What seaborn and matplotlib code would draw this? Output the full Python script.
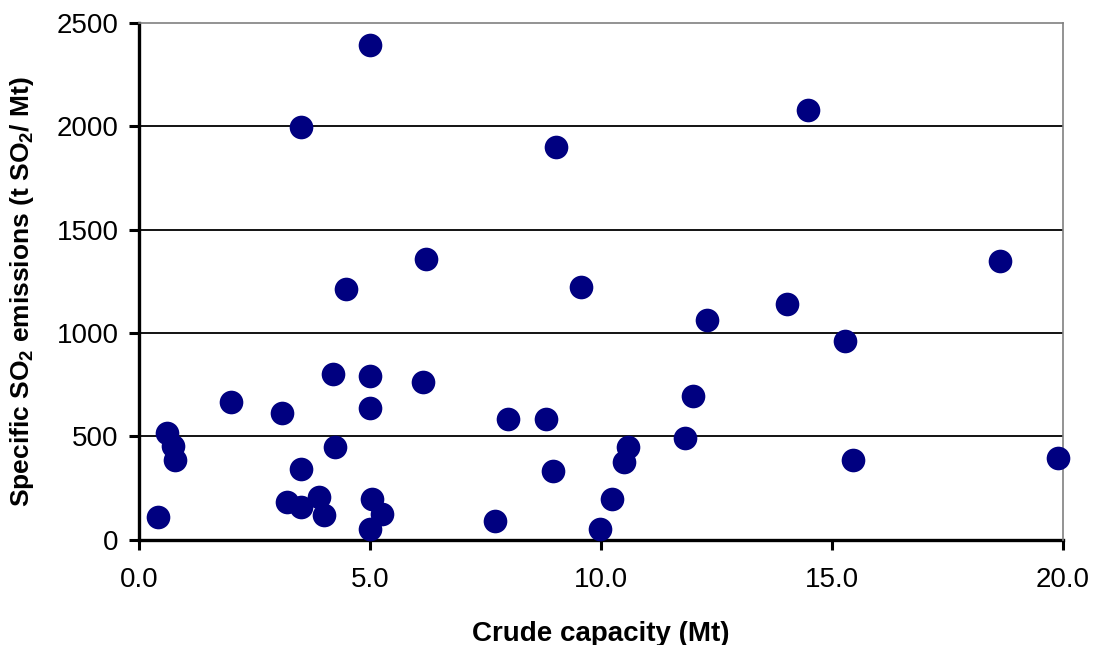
import numpy as np
import pandas as pd
import matplotlib
matplotlib.use("Agg")
import matplotlib.pyplot as plt
import seaborn as sns

# crude capacity (Mt) and specific SO2 emissions (t SO2 / Mt)
capacity = [0.42, 0.60, 0.74, 0.79, 2.00, 3.09, 3.20, 3.50, 3.50, 3.50,
            3.90, 4.00, 4.19, 4.24, 4.48, 4.99, 4.99, 4.99, 5.04, 4.99,
            5.27, 6.15, 6.21, 7.71, 7.98, 8.82, 8.97, 9.02, 9.57, 9.98,
            10.23, 10.50, 10.59, 11.82, 12.00, 12.29, 14.02, 14.48, 15.28, 15.46,
            18.64, 19.90]
emissions = [113, 516, 456, 387, 668, 614, 185, 343, 161, 1996,
             209, 122, 801, 448, 1212, 2394, 795, 637, 197, 52,
             124, 763, 1357, 93, 585, 585, 335, 1902, 1222, 52,
             198, 376, 448, 492, 698, 1064, 1140, 2079, 961, 387,
             1348, 398]

x_ticks = [0, 5, 10, 15, 20]
y_ticks = [0, 500, 1000, 1500, 2000, 2500]

df = pd.DataFrame({"capacity": capacity, "emissions": emissions})

sns.set_style("white")
plt.rcParams["font.family"] = ["Liberation Sans", "DejaVu Sans"]
plt.rcParams["mathtext.fontset"] = "custom"
plt.rcParams["mathtext.rm"] = "Liberation Sans"
plt.rcParams["mathtext.bf"] = "Liberation Sans:bold"
for k in ["text.color", "axes.labelcolor", "xtick.color", "ytick.color"]:
    plt.rcParams[k] = "black"

fig = plt.figure(figsize=(10.94, 6.45), dpi=100)
ax = fig.add_axes([0.127, 0.163, 0.8447, 0.8013])

# gridlines under the dots
for yv in y_ticks[1:-1]:
    ax.axhline(yv, color="black", lw=1.3, zorder=1)

sns.scatterplot(data=df, x="capacity", y="emissions", ax=ax, color="#000080",
                s=290, linewidth=0, zorder=3, legend=False)
for c in ax.collections:
    c.set_clip_on(False)

ax.set_xlim(0, 20)
ax.set_ylim(0, 2500)
ax.set_xticks(x_ticks)
ax.set_yticks(y_ticks)
ax.set_xticklabels([f"{v:.1f}" for v in x_ticks])
ax.set_yticklabels([str(v) for v in y_ticks])

ax.tick_params(axis="both", which="major", direction="out", length=7.5, width=2.2,
               labelsize=20, bottom=True, left=True)
ax.tick_params(axis="x", pad=12)
ax.tick_params(axis="y", pad=7)

for side in ["left", "bottom"]:
    ax.spines[side].set_color("black")
    ax.spines[side].set_linewidth(2.4)
    ax.spines[side].set_zorder(2)
for side in ["top", "right"]:
    ax.spines[side].set_color("#808080")
    ax.spines[side].set_linewidth(1.2)

ax.set_xlabel("Crude capacity (Mt)", fontsize=20, fontweight="bold", labelpad=20)
ax.set_ylabel(r"Specific SO$_\mathbf{2}$ emissions (t SO$_\mathbf{2}$/ Mt)",
              fontsize=19, fontweight="bold")
ax.yaxis.set_label_coords(-0.111, 0.48)

fig.savefig("out.png", dpi=100)
